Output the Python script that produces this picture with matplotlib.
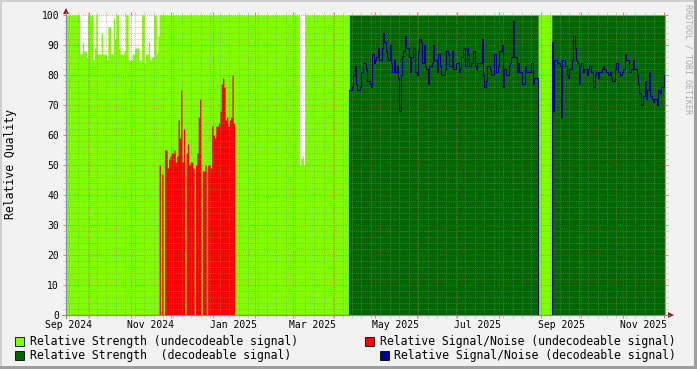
import datetime as dt

import matplotlib
matplotlib.use("Agg")
import matplotlib.pyplot as plt
import matplotlib.dates as mdates
from matplotlib.lines import Line2D
from matplotlib.patches import Polygon, Rectangle
from matplotlib.ticker import NullFormatter
import numpy as np

# one value per day, day 0 = START
START = dt.datetime(2024, 9, 14)
N_DAYS = 444

# [first_day, end_day) of each signal state
UNDECODEABLE_RANGES = [(0, 210), (350, 360)]
DECODEABLE_RANGES = [(210, 350), (360, 444)]

# relative strength while undecodeable, where it is below 100
STRENGTH_DIPS_1_START = 10
STRENGTH_DIPS_1 = [
    87, 87, 91, 88, 88, 86, 100, 100, 100, 100,
    85, 89, 100, 87, 87, 87, 94, 87, 87, 87,
    85, 96, 96, 87, 87, 99, 92, 100, 100, 89,
    87, 87, 87, 88, 100, 100, 85, 85, 85, 87,
    87, 89, 89, 89, 85, 85, 100, 100, 84, 87,
    87, 91, 85, 86, 86, 100, 100, 87, 93, 100,
]
STRENGTH_DIPS_2_START = 173
STRENGTH_DIPS_2 = [50, 52, 53, 50]

# relative signal/noise (undecodeable)
SNR_UNDEC_START = 69
SNR_UNDEC = [
    50, 0, 47, 0, 55, 55, 49, 52, 53, 54,
    54, 55, 51, 53, 65, 59, 75, 51, 62, 0,
    54, 57, 50, 51, 51, 49, 0, 50, 54, 66,
    72, 0, 48, 48, 50, 0, 50, 50, 49, 63,
    60, 59, 63, 63, 64, 68, 77, 79, 76, 65,
    66, 63, 65, 66, 80, 64,
]

# relative signal/noise (decodeable)
SNR_DEC_A_START = 210
SNR_DEC_A = [
    75, 75, 76, 80, 83, 77, 75, 75, 76, 81,
    84, 84, 82, 78, 78, 77, 76, 87, 84, 85,
    86, 89, 85, 85, 89, 94, 91, 88, 86, 85,
    90, 84, 81, 85, 81, 83, 79, 68, 80, 86,
    88, 93, 89, 89, 86, 81, 86, 89, 89, 81,
    80, 88, 92, 91, 84, 90, 83, 82, 77, 83,
    83, 84, 90, 85, 85, 81, 87, 83, 80, 80,
    80, 82, 88, 87, 83, 83, 88, 82, 82, 84,
    84, 81, 82, 86, 89, 89, 83, 89, 87, 83,
    84, 84, 88, 83, 82, 84, 84, 84, 92, 80,
    76, 78, 83, 83, 82, 80, 80, 87, 87, 81,
    83, 88, 88, 90, 76, 82, 80, 80, 83, 84,
    86, 98, 86, 86, 81, 84, 81, 81, 77, 77,
    83, 81, 81, 81, 81, 84, 77, 79, 79, 79,
]
SNR_DEC_B_START = 360
SNR_DEC_B = [
    91, 68, 85, 85, 84, 84, 83, 66, 85, 85,
    83, 80, 79, 82, 82, 85, 93, 89, 85, 84,
    77, 83, 84, 81, 82, 82, 80, 82, 83, 81,
    81, 76, 80, 81, 79, 81, 81, 82, 83, 82,
    81, 81, 80, 81, 79, 78, 78, 82, 84, 81,
    81, 80, 81, 82, 87, 85, 85, 81, 81, 82,
    85, 82, 82, 80, 77, 74, 70, 70, 73, 78,
    72, 75, 81, 73, 72, 71, 72, 72, 70, 75,
    74, 76, 76, 80,
]

MONTH_LABELS = ["Sep 2024", "Nov 2024", "Jan 2025", "Mar 2025",
                "May 2025", "Jul 2025", "Sep 2025", "Nov 2025"]

LEGEND_LABELS = [
    "Relative Strength (undecodeable signal)",
    "Relative Signal/Noise (undecodeable signal)",
    "Relative Strength  (decodeable signal)",
    "Relative Signal/Noise (decodeable signal)",
]

C_LIGHT = "#80FF00"
C_RED = "#FF0000"
C_DARK = "#006600"
C_BLUE = "#000090"
C_BACK = "#F2F2F2"
C_AXIS = "#8A8A9A"
C_ARROW = "#8B1C1C"
MONO = "DejaVu Sans Mono"

W, H = 697, 369


def place(arr, start, values):
    arr[start:start + len(values)] = values


strength_undec = np.zeros(N_DAYS)
for a, b in UNDECODEABLE_RANGES:
    strength_undec[a:b] = 100
place(strength_undec, STRENGTH_DIPS_1_START, STRENGTH_DIPS_1)
place(strength_undec, STRENGTH_DIPS_2_START, STRENGTH_DIPS_2)

strength_dec = np.zeros(N_DAYS)
for a, b in DECODEABLE_RANGES:
    strength_dec[a:b] = 100

snr_undec = np.zeros(N_DAYS)
place(snr_undec, SNR_UNDEC_START, SNR_UNDEC)

snr_dec = np.zeros(N_DAYS)
place(snr_dec, SNR_DEC_A_START, SNR_DEC_A)
place(snr_dec, SNR_DEC_B_START, SNR_DEC_B)

edges = mdates.date2num([START + dt.timedelta(days=i) for i in range(N_DAYS + 1)])


def ext(y):
    return np.append(y, y[-1])


def fx(x):
    return x / W


def fy(y):
    return 1 - y / H


fig = plt.figure(figsize=(W / 100, H / 100), dpi=100, facecolor=C_BACK)
ax = fig.add_axes([fx(66), fy(315), 599 / W, 300 / H])
ax.set_facecolor("white")

ax.fill_between(edges, ext(strength_undec), step="post", color=C_LIGHT, lw=0, antialiased=False, zorder=1)
ax.fill_between(edges, ext(snr_undec), step="post", color=C_RED, lw=0, antialiased=False, zorder=1.1)
ax.fill_between(edges, ext(strength_dec), step="post", color=C_DARK, lw=0, antialiased=False, zorder=1.2)
ax.step(edges, ext(snr_dec), where="post", color=C_BLUE, lw=0.8, zorder=3)

ax.set_xlim(edges[0], edges[-1])
ax.set_ylim(0, 100)

ax.xaxis.set_major_locator(mdates.MonthLocator())
ax.xaxis.set_minor_locator(mdates.WeekdayLocator(byweekday=mdates.MO))
ax.xaxis.set_major_formatter(NullFormatter())
ax.set_yticks(range(0, 101, 10))
ax.set_yticks(range(0, 101, 2), minor=True)
ax.set_yticklabels([str(v) for v in range(0, 101, 10)], family=MONO, fontsize=7)

ax.set_axisbelow(False)
dots = (0, (0.6, 1.6))
ax.grid(which="minor", color=(0.55, 0.55, 0.55, 0.3), linestyle=dots, lw=0.6)
ax.grid(which="major", color=(0.95, 0.2, 0.2, 0.45), linestyle=dots, lw=0.6)

ax.tick_params(which="major", direction="out", length=2, width=0.7,
               color=(0.92, 0.45, 0.45), top=True, right=True, pad=3)
ax.tick_params(which="minor", direction="out", length=2, width=0.7,
               color=(0.8, 0.8, 0.8), top=True, right=True)
for s in ax.spines.values():
    s.set_visible(False)

# month labels, centred on the middle of each month
for lab in MONTH_LABELS:
    t = dt.datetime.strptime(lab, "%b %Y") + dt.timedelta(days=15)
    ax.text(mdates.date2num(t), -5 / 300, lab, transform=ax.get_xaxis_transform(),
            ha="center", va="top", family=MONO, fontsize=7, clip_on=False)

# axis lines and arrows
fig.add_artist(Line2D([fx(62), fx(669)], [fy(315), fy(315)], color=C_AXIS, lw=0.8))
fig.add_artist(Line2D([fx(66), fx(66)], [fy(318), fy(12)], color=C_AXIS, lw=0.8))
fig.add_artist(Polygon([(fx(63), fy(14)), (fx(69), fy(14)), (fx(66), fy(8))],
                       closed=True, color=C_ARROW, lw=0))
fig.add_artist(Polygon([(fx(668), fy(312)), (fx(668), fy(318)), (fx(674), fy(315))],
                       closed=True, color=C_ARROW, lw=0))

fig.text(fx(10.5), fy(164), "Relative Quality", rotation=90, ha="center", va="center",
         family=MONO, fontsize=8.3)
fig.text(fx(688), fy(4), "RRDTOOL / TOBI OETIKER", rotation=270, ha="center", va="top",
         family=MONO, fontsize=6, color="#AAAAAA")

# legend
legend_pos = [(15, 341, 30), (365, 341, 380), (15, 355, 30), (380, 355, 394)]
for (sx, cy, tx), lab, col in zip(legend_pos, LEGEND_LABELS, [C_LIGHT, C_RED, C_DARK, C_BLUE]):
    fig.add_artist(Rectangle((fx(sx), fy(cy + 4.5)), 9 / W, 9 / H, facecolor=col,
                             edgecolor="black", lw=0.6, transform=fig.transFigure))
    fig.text(fx(tx), fy(cy), lab, ha="left", va="center", family=MONO, fontsize=8.3)

# frame
fig.add_artist(Rectangle((0, 0), 2 / W, 1, color="#CFCFCF", lw=0, transform=fig.transFigure))
fig.add_artist(Rectangle((0, 1 - 2 / H), 1, 2 / H, color="#CFCFCF", lw=0, transform=fig.transFigure))
fig.add_artist(Rectangle((1 - 3 / W, 0), 3 / W, 1, color="#9E9E9E", lw=0, transform=fig.transFigure))
fig.add_artist(Rectangle((0, 0), 1, 3 / H, color="#9E9E9E", lw=0, transform=fig.transFigure))

fig.savefig("out.png", dpi=100, facecolor=C_BACK)
